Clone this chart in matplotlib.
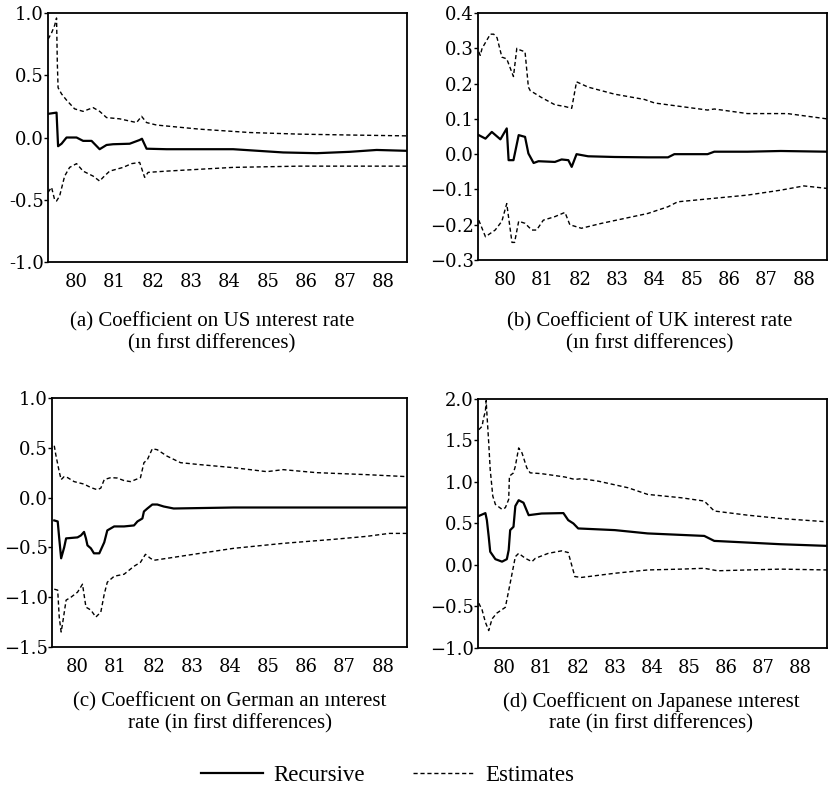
import matplotlib
matplotlib.use("Agg")
import matplotlib.pyplot as plt

# Panel (a): US interest rate
us_up_x = [79.28, 79.37, 79.45, 79.50, 79.52, 79.54, 79.63, 79.76, 79.97, 80.19, 80.45, 80.62, 80.80,
           81.14, 81.58, 81.71, 81.84, 82.10, 83.22, 84.52, 85.82, 87.12, 88.61]
us_up_y = [0.79, 0.84, 0.90, 0.96, 0.60, 0.40, 0.35, 0.30, 0.23, 0.21, 0.24, 0.21, 0.16,
           0.15, 0.12, 0.17, 0.12, 0.10, 0.067, 0.04, 0.027, 0.02, 0.013]
us_rec_x = [79.28, 79.50, 79.54, 79.63, 79.76, 80.02, 80.19, 80.41, 80.62, 80.80, 80.97, 81.40, 81.66,
            81.72, 81.84, 82.36, 84.09, 85.39, 86.26, 87.12, 87.82, 88.61]
us_rec_y = [0.19, 0.20, -0.07, -0.05, 0.0, 0.0, -0.027, -0.027, -0.094, -0.06, -0.054, -0.05, -0.02,
            -0.01, -0.09, -0.094, -0.094, -0.12, -0.126, -0.115, -0.10, -0.107]
us_lo_x = [79.28, 79.37, 79.45, 79.50, 79.58, 79.71, 79.84, 80.02, 80.19, 80.45, 80.62, 80.71, 80.88,
           81.23, 81.45, 81.66, 81.79, 81.88, 82.36, 84.09, 85.82, 88.61]
us_lo_y = [-0.44, -0.40, -0.50, -0.51, -0.47, -0.31, -0.24, -0.21, -0.27, -0.31, -0.35, -0.32, -0.27,
           -0.24, -0.21, -0.20, -0.32, -0.28, -0.27, -0.24, -0.23, -0.23]

# Panel (b): UK interest rate
uk_up_x = [79.29, 79.33, 79.38, 79.60, 79.69, 79.78, 79.91, 80.04, 80.22, 80.31, 80.40, 80.53, 80.62,
           80.67, 80.98, 81.33, 81.60, 81.78, 81.91, 82.22, 82.93, 83.73, 84.0, 84.71, 85.42, 85.6,
           86.49, 87.56, 88.62]
uk_up_y = [0.29, 0.28, 0.30, 0.34, 0.34, 0.33, 0.275, 0.27, 0.22, 0.30, 0.295, 0.29, 0.19,
           0.18, 0.16, 0.14, 0.135, 0.13, 0.205, 0.19, 0.17, 0.155, 0.145, 0.135, 0.125, 0.128,
           0.115, 0.115, 0.10]
uk_rec_x = [79.29, 79.47, 79.64, 79.87, 80.04, 80.09, 80.22, 80.36, 80.53, 80.62, 80.76, 80.89, 81.33,
            81.51, 81.69, 81.78, 81.91, 82.22, 82.93, 83.82, 84.36, 84.53, 85.42, 85.6, 86.49, 87.38, 88.62]
uk_rec_y = [0.054, 0.044, 0.063, 0.042, 0.073, -0.017, -0.017, 0.054, 0.049, 0.002, -0.025, -0.02, -0.022,
            -0.015, -0.017, -0.036, 0.0, -0.006, -0.008, -0.009, -0.009, 0.0, 0.0, 0.007, 0.007, 0.009, 0.007]
uk_lo_x = [79.29, 79.47, 79.73, 79.91, 80.04, 80.18, 80.25, 80.36, 80.53, 80.71, 80.84, 81.02, 81.33,
           81.60, 81.73, 82.04, 82.58, 83.82, 84.36, 84.62, 85.6, 86.49, 87.38, 88.0, 88.62]
uk_lo_y = [-0.187, -0.234, -0.215, -0.19, -0.14, -0.25, -0.25, -0.19, -0.196, -0.215, -0.215, -0.187, -0.177,
           -0.165, -0.20, -0.21, -0.196, -0.168, -0.149, -0.135, -0.125, -0.116, -0.102, -0.09, -0.097]

# Panel (c): German interest rate
de_up_x = [79.39, 79.43, 79.52, 79.57, 79.65, 79.74, 79.91, 80.17, 80.35, 80.52, 80.61, 80.70, 80.87,
           81.04, 81.22, 81.39, 81.65, 81.74, 81.83, 81.96, 82.09, 82.35, 82.70, 83.22, 84.09, 84.96,
           85.39, 86.26, 87.57, 88.63]
de_up_y = [0.52, 0.43, 0.26, 0.18, 0.21, 0.20, 0.16, 0.135, 0.10, 0.078, 0.095, 0.18, 0.20,
           0.196, 0.17, 0.16, 0.20, 0.35, 0.38, 0.49, 0.48, 0.415, 0.35, 0.33, 0.30, 0.26,
           0.28, 0.25, 0.23, 0.21]
de_rec_x = [79.39, 79.48, 79.52, 79.57, 79.65, 79.70, 80.0, 80.09, 80.17, 80.22, 80.26, 80.35, 80.43,
            80.57, 80.70, 80.78, 80.96, 81.22, 81.48, 81.57, 81.70, 81.74, 81.83, 81.96, 82.09, 82.26,
            82.52, 84.09, 88.63]
de_rec_y = [-0.23, -0.24, -0.41, -0.61, -0.50, -0.41, -0.40, -0.38, -0.345, -0.41, -0.48, -0.51, -0.56,
            -0.56, -0.45, -0.33, -0.29, -0.29, -0.28, -0.24, -0.21, -0.14, -0.11, -0.07, -0.07, -0.09,
            -0.11, -0.10, -0.10]
de_lo_x = [79.39, 79.48, 79.52, 79.57, 79.61, 79.70, 79.83, 80.0, 80.13, 80.22, 80.35, 80.48, 80.61,
           80.70, 80.78, 80.96, 81.22, 81.48, 81.65, 81.78, 81.91, 82.0, 82.35, 83.04, 84.09, 85.39,
           86.70, 87.57, 88.17, 88.63]
de_lo_y = [-0.92, -0.93, -1.2, -1.35, -1.26, -1.03, -1.0, -0.95, -0.87, -1.1, -1.13, -1.2, -1.15,
           -0.97, -0.85, -0.79, -0.77, -0.69, -0.65, -0.57, -0.61, -0.63, -0.61, -0.57, -0.51, -0.46,
           -0.42, -0.39, -0.36, -0.36]

# Panel (d): Japanese interest rate
jp_up_x = [79.30, 79.39, 79.43, 79.48, 79.50, 79.52, 79.57, 79.61, 79.68, 79.75, 79.93, 80.02, 80.11,
           80.13, 80.24, 80.29, 80.38, 80.47, 80.60, 80.69, 81.0, 81.63, 81.90, 82.08, 82.53, 83.34,
           83.87, 84.77, 85.40, 85.67, 86.57, 87.46, 88.72]
jp_up_y = [1.63, 1.67, 1.77, 1.85, 1.98, 1.83, 1.47, 1.15, 0.83, 0.73, 0.67, 0.69, 0.79,
           1.07, 1.11, 1.19, 1.41, 1.35, 1.17, 1.11, 1.10, 1.06, 1.03, 1.04, 1.01, 0.93,
           0.85, 0.81, 0.77, 0.65, 0.60, 0.56, 0.52]
jp_rec_x = [79.30, 79.48, 79.52, 79.57, 79.61, 79.75, 79.93, 80.06, 80.11, 80.15, 80.24, 80.29, 80.38,
            80.51, 80.65, 81.0, 81.59, 81.72, 81.86, 81.99, 82.98, 83.87, 85.40, 85.67, 86.57, 87.46, 88.72]
jp_rec_y = [0.59, 0.625, 0.54, 0.34, 0.16, 0.07, 0.04, 0.07, 0.18, 0.42, 0.46, 0.71, 0.78,
            0.75, 0.60, 0.62, 0.625, 0.54, 0.50, 0.44, 0.42, 0.38, 0.35, 0.29, 0.27, 0.25, 0.23]
jp_lo_x = [79.30, 79.39, 79.48, 79.57, 79.66, 79.79, 80.02, 80.15, 80.29, 80.38, 80.56, 80.74, 80.83,
           81.18, 81.54, 81.72, 81.90, 82.08, 82.98, 83.87, 84.77, 85.40, 85.76, 86.57, 87.46, 88.72]
jp_lo_y = [-0.46, -0.54, -0.69, -0.79, -0.65, -0.58, -0.51, -0.22, 0.10, 0.14, 0.08, 0.04, 0.08,
           0.14, 0.17, 0.15, -0.14, -0.15, -0.10, -0.06, -0.05, -0.04, -0.07, -0.06, -0.05, -0.06]

years = [80, 81, 82, 83, 84, 85, 86, 87, 88]
year_labels = ["80", "81", "82", "83", "84", "85", "86", "87", "88"]

us_ticks = [1.0, 0.5, 0.0, -0.5, -1.0]
us_tick_labels = ["1.0", "0.5", "0.0", "-0.5", "-1.0"]
uk_ticks = [0.4, 0.3, 0.2, 0.1, 0.0, -0.1, -0.2, -0.3]
uk_tick_labels = ["0.4", "0.3", "0.2", "0.1", "0.0", "\u22120.1", "\u22120.2", "\u22120.3"]
de_ticks = [1.0, 0.5, 0.0, -0.5, -1.0, -1.5]
de_tick_labels = ["1.0", "0.5", "0.0", "\u22120.5", "\u22121.0", "\u22121.5"]
jp_ticks = [2.0, 1.5, 1.0, 0.5, 0.0, -0.5, -1.0]
jp_tick_labels = ["2.0", "1.5", "1.0", "0.5", "0.0", "\u22120.5", "\u22121.0"]

captions = [
    "(a) Coefficient on US \u0131nterest rate\n(\u0131n f\u0131rst differences)",
    "(b) Coefficient of UK interest rate\n(\u0131n f\u0131rst differences)",
    "(c) Coeffic\u0131ent on German an \u0131nterest\nrate (in first differences)",
    "(d) Coeffic\u0131ent on Japanese \u0131nterest\nrate (in first differences)",
]

TICK_FONT = "DejaVu Serif"
TEXT_FONT = "Liberation Serif"


def draw_panel(ax, up, rec, lo, yticks, ylabels, xlim, ylim):
    l1, = ax.plot(rec[0], rec[1], color="black", lw=1.6, label="Recursive")
    l2, = ax.plot(up[0], up[1], color="black", lw=1.0, ls=(0, (3, 2)), label="Estimates")
    ax.plot(lo[0], lo[1], color="black", lw=1.0, ls=(0, (3, 2)))
    ax.set_xlim(*xlim)
    ax.set_ylim(*ylim)
    ax.set_xticks(years)
    ax.set_xticklabels(year_labels, fontfamily=TICK_FONT, fontsize=13)
    ax.set_yticks(yticks)
    ax.set_yticklabels(ylabels, fontfamily=TICK_FONT, fontsize=13)
    ax.tick_params(axis="x", length=0, pad=8)
    ax.tick_params(axis="y", direction="out", length=3, width=1, pad=0)
    for s in ax.spines.values():
        s.set_linewidth(1.3)
    return l1, l2


fig = plt.figure(figsize=(8.29, 7.88), dpi=100)

ax_a = fig.add_axes([0.058, 0.6675, 0.433, 0.316])
ax_b = fig.add_axes([0.5766, 0.670, 0.421, 0.3135])
ax_c = fig.add_axes([0.0627, 0.179, 0.428, 0.316])
ax_d = fig.add_axes([0.5766, 0.1777, 0.421, 0.316])

h1, h2 = draw_panel(ax_a, (us_up_x, us_up_y), (us_rec_x, us_rec_y), (us_lo_x, us_lo_y),
                    us_ticks, us_tick_labels, (79.28, 88.61), (-1.0, 1.0))
draw_panel(ax_b, (uk_up_x, uk_up_y), (uk_rec_x, uk_rec_y), (uk_lo_x, uk_lo_y),
           uk_ticks, uk_tick_labels, (79.27, 88.62), (-0.3, 0.4))
draw_panel(ax_c, (de_up_x, de_up_y), (de_rec_x, de_rec_y), (de_lo_x, de_lo_y),
           de_ticks, de_tick_labels, (79.33, 88.63), (-1.5, 1.0))
draw_panel(ax_d, (jp_up_x, jp_up_y), (jp_rec_x, jp_rec_y), (jp_lo_x, jp_lo_y),
           jp_ticks, jp_tick_labels, (79.28, 88.72), (-1.0, 2.0))

# Captions under each panel
cap_pos = [(212, 333), (650, 333), (230, 713), (651, 713)]
for text, (px, py) in zip(captions, cap_pos):
    fig.text(px / 829, 1 - py / 788, text, ha="center", va="center",
             fontfamily=TEXT_FONT, fontsize=15, linespacing=1.15)

fig.legend([h1, h2], ["Recursive", "Estimates"], loc="center",
           bbox_to_anchor=(388 / 829, 1 - 775 / 788), ncol=2, frameon=False,
           handlelength=2.7, columnspacing=2.1, handletextpad=0.45,
           prop={"family": TEXT_FONT, "size": 16.5})

fig.savefig("out.png", dpi=100)
